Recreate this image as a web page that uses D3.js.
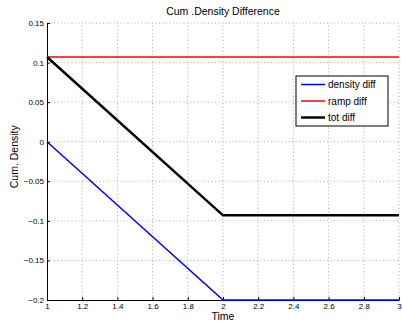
<!DOCTYPE html>
<html><head><meta charset="utf-8">
<script src="https://cdn.jsdelivr.net/npm/d3@7"></script>
<style>body{margin:0;background:#fff}svg{display:block}text{font-family:"Liberation Sans",Arial,sans-serif}</style>
</head><body>
<script>
const time = [1, 2, 3];
const densityDiff = [0, -0.2, -0.2];
const rampDiff = [0.107, 0.107, 0.107];
const totDiff = [0.107, -0.093, -0.093];
const seriesNames = ["density diff", "ramp diff", "tot diff"];
const seriesColors = ["#0000ff", "#ff0000", "#000000"];
const seriesWidths = [1.5, 1.5, 2.5];
const xTicks = [1, 1.2, 1.4, 1.6, 1.8, 2, 2.2, 2.4, 2.6, 2.8, 3];
const yTicks = [-0.2, -0.15, -0.1, -0.05, 0, 0.05, 0.1, 0.15];

const W = 402, H = 323;
const m = {left: 47, right: 3, top: 23, bottom: 23};
const svg = d3.select("body").append("svg").attr("width", W).attr("height", H);
const x = d3.scaleLinear().domain([1, 3]).range([m.left, W - m.right]);
const y = d3.scaleLinear().domain([-0.2, 0.15]).range([H - m.bottom, m.top]);

// grid
svg.append("g").selectAll("line").data(xTicks.slice(1)).join("line")
  .attr("x1", d => x(d)).attr("x2", d => x(d)).attr("y1", y(-0.2)).attr("y2", y(0.15))
  .attr("stroke", "#999").attr("stroke-width", 0.8).attr("stroke-dasharray", "1,2.5");
svg.append("g").selectAll("line").data(yTicks.slice(1)).join("line")
  .attr("x1", x(1)).attr("x2", x(3)).attr("y1", d => y(d)).attr("y2", d => y(d))
  .attr("stroke", "#999").attr("stroke-width", 0.8).attr("stroke-dasharray", "1,2.5");

const fmt = d => {
  const s = d3.format("")(+d.toFixed(2));
  return s.replace("-", "\u2212");
};
const xAxis = svg.append("g").attr("transform", `translate(0,${y(-0.2)})`)
  .call(d3.axisBottom(x).tickValues(xTicks).tickSize(-3).tickSizeOuter(0).tickFormat(fmt));
const yAxis = svg.append("g").attr("transform", `translate(${x(1)},0)`)
  .call(d3.axisLeft(y).tickValues(yTicks).tickSize(-3).tickSizeOuter(0).tickFormat(fmt));
[xAxis, yAxis].forEach(a => {
  a.select(".domain").attr("stroke", "#000").attr("stroke-width", 1);
  a.selectAll(".tick line").attr("stroke", "#000");
  a.selectAll("text").attr("font-size", 8).attr("fill", "#000").attr("font-family", '"Liberation Sans",Arial,sans-serif');
});
xAxis.selectAll("text").attr("dy", "0.45em").attr("y", 5);
yAxis.selectAll("text").attr("x", -3);

// lines
const series = [densityDiff, rampDiff, totDiff];
const line = d3.line().x((d, i) => x(time[i])).y(d => y(d));
[rampDiff, totDiff, densityDiff].forEach(s => {
  const k = series.indexOf(s);
  svg.append("path").datum(s).attr("d", line).attr("fill", "none")
    .attr("stroke", seriesColors[k]).attr("stroke-width", seriesWidths[k]);
});

// title & labels
svg.append("text").attr("x", x(2)).attr("y", 15).attr("text-anchor", "middle")
  .attr("font-size", 10.5).text("Cum .Density Difference");
svg.append("text").attr("x", x(2)).attr("y", 320).attr("text-anchor", "middle")
  .attr("font-size", 10.5).text("Time");
svg.append("text").attr("transform", `translate(17.5,${y(-0.019)}) rotate(-90)`)
  .attr("text-anchor", "middle").attr("font-size", 10.5).text("Cum. Density");

// legend
const lg = svg.append("g").attr("transform", "translate(296,76)");
lg.append("rect").attr("width", 92).attr("height", 50).attr("fill", "#fff")
  .attr("stroke", "#000").attr("stroke-width", 1);
seriesNames.forEach((n, i) => {
  const yy = 8.5 + i * 16.5;
  lg.append("line").attr("x1", 5).attr("x2", 29).attr("y1", yy).attr("y2", yy)
    .attr("stroke", seriesColors[i]).attr("stroke-width", seriesWidths[i] === 2.5 ? 2.5 : 1.5);
  lg.append("text").attr("x", 32).attr("y", yy + 3.5).attr("font-size", 10).text(n);
});
</script>
</body></html>
